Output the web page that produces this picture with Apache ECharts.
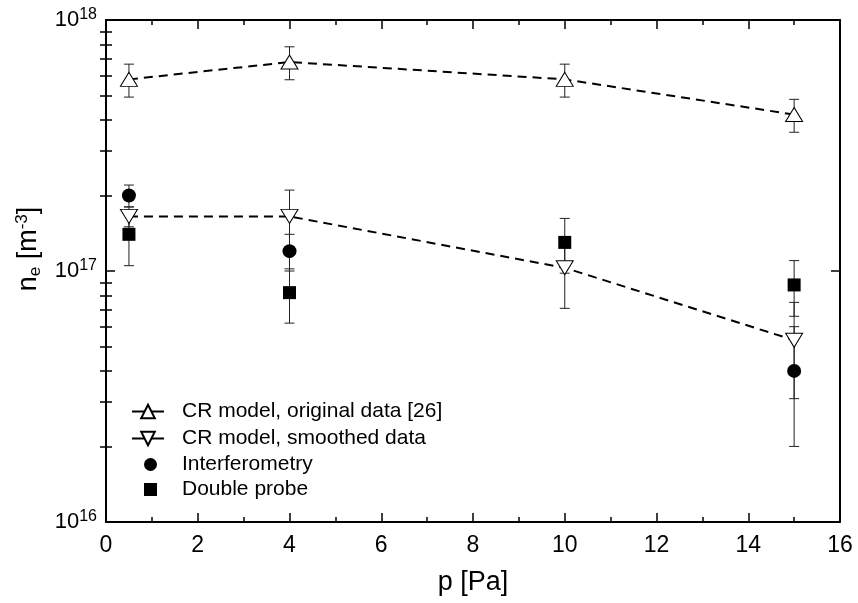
<!DOCTYPE html>
<html><head><meta charset="utf-8">
<script src="https://cdn.jsdelivr.net/npm/echarts@6/dist/echarts.min.js"></script>
<style>html,body{margin:0;padding:0;background:#fff}#c{width:858px;height:603px}</style>
</head><body><div id="c"></div>
<script>
// ---- data ----
const pressure = [0.5, 4, 10, 15];
const crOriginal = [5.8e17, 6.8e17, 5.8e17, 4.2e17];
const crOriginalErr = [0.87e17, 1.02e17, 0.87e17, 0.63e17];
const crSmoothed = [1.65e17, 1.65e17, 1.03e17, 5.3e16];
const crSmoothedErr = [0.15e17, 0.45e17, 0.32e17, 0.22e17];
const interfP = [0.5, 4, 15];
const interf = [2.0e17, 1.2e17, 4.0e16];
const interfErr = [0.2e17, 0.2e17, 2.0e16];
const probeP = [0.5, 4, 10, 15];
const probe = [1.4e17, 8.2e16, 1.3e17, 8.8e16];
const probeErr = [0.35e17, 0.2e17, 0.32e17, 0.22e17];
const yMinorTicks = [2e16,3e16,4e16,5e16,6e16,7e16,8e16,9e16,2e17,3e17,4e17,5e17,6e17,7e17,8e17,9e17];
const names = ['CR model, original data [26]', 'CR model, smoothed data', 'Interferometry', 'Double probe'];

const FONT = 'Liberation Sans, Arial, sans-serif';
const zip2 = (xs, ys) => xs.map((x, i) => [x, ys[i]]);
const zip3 = (xs, ys, es) => xs.map((x, i) => [x, ys[i], es[i]]);

function errSeries(data) {
  return {
    type: 'custom', xAxisIndex: 0, yAxisIndex: 0, z: 1, silent: true,
    data: data,
    renderItem: function (params, api) {
      const x = api.value(0), y = api.value(1), e = api.value(2);
      const hi = api.coord([x, y + e]);
      const lo = api.coord([x, y - e]);
      const w = 5;
      const st = { stroke: '#222', lineWidth: 1 };
      return { type: 'group', children: [
        { type: 'line', shape: { x1: hi[0], y1: hi[1], x2: lo[0], y2: lo[1] }, style: st },
        { type: 'line', shape: { x1: hi[0] - w, y1: hi[1], x2: hi[0] + w, y2: hi[1] }, style: st },
        { type: 'line', shape: { x1: lo[0] - w, y1: lo[1], x2: lo[0] + w, y2: lo[1] }, style: st }
      ]};
    }
  };
}

const xAxisBase = {
  type: 'value', min: 0, max: 16, interval: 2,
  axisLine: { show: true, onZero: false, lineStyle: { color: '#000', width: 2 } },
  axisTick: { show: true, inside: true, length: 9, lineStyle: { color: '#000', width: 1.5 } },
  minorTick: { show: true, splitNumber: 2, length: 5, lineStyle: { color: '#000', width: 1.5 } },
  splitLine: { show: false }, minorSplitLine: { show: false }
};
const yAxisBase = {
  type: 'log', logBase: 10, min: 1e16, max: 1e18,
  axisLine: { show: true, onZero: false, lineStyle: { color: '#000', width: 2 } },
  axisTick: { show: true, inside: true, length: 9, lineStyle: { color: '#000', width: 1.5 } },
  splitLine: { show: false }
};
const yMinorBase = {
  type: 'log', logBase: 10, min: 1e16, max: 1e18,
  axisLine: { show: false },
  axisLabel: { show: false },
  axisTick: { show: true, inside: true, length: 6, customValues: yMinorTicks, lineStyle: { color: '#000', width: 1.5 } },
  splitLine: { show: false }
};

const chart = echarts.init(document.getElementById('c'), null, { renderer: 'canvas' });
chart.setOption({
  animation: false,
  backgroundColor: '#fff',
  textStyle: { fontFamily: FONT },
  grid: { left: 106, right: 18, top: 20, bottom: 81, containLabel: false },
  xAxis: [
    Object.assign({}, xAxisBase, {
      position: 'bottom',
      name: 'p [Pa]', nameLocation: 'middle', nameGap: 47,
      nameTextStyle: { fontSize: 27, color: '#000', fontFamily: FONT },
      axisLabel: { show: true, fontSize: 23, color: '#000', margin: 12, fontFamily: FONT }
    }),
    Object.assign({}, xAxisBase, { position: 'top', axisLabel: { show: false } })
  ],
  yAxis: [
    Object.assign({}, yAxisBase, {
      position: 'left',
      name: 'n{sub|e} [m{sup|-3}]', nameLocation: 'middle', nameGap: 62,
      nameTextStyle: {
        fontSize: 27, color: '#000', fontFamily: FONT, padding: [0, 0, 0, 44],
        rich: {
          sub: { fontSize: 17, color: '#000', fontFamily: FONT, padding: [13, 0, 0, 0] },
          sup: { fontSize: 17, color: '#000', fontFamily: FONT, padding: [0, 0, 13, 0] }
        }
      },
      axisLabel: {
        show: true, margin: 9, color: '#000',
        formatter: v => '{b|10}{s|' + Math.round(Math.log10(v)) + '}',
        rich: {
          b: { fontSize: 22, color: '#000', fontFamily: FONT, lineHeight: 22 },
          s: { fontSize: 16, color: '#000', fontFamily: FONT, padding: [0, 0, 10, 0] }
        }
      }
    }),
    Object.assign({}, yMinorBase, { position: 'left' }),
    Object.assign({}, yAxisBase, { position: 'right', axisLabel: { show: false } }),
    Object.assign({}, yMinorBase, { position: 'right' })
  ],
  legend: [
    {
      data: [names[0], names[1]],
      orient: 'vertical', left: 131, top: 401, padding: 0,
      itemWidth: 32, itemHeight: 17, itemGap: 6,
      symbolRotate: 'inherit',
      lineStyle: { type: 'solid', width: 2, color: '#000' },
      textStyle: { fontSize: 21, color: '#000', fontFamily: FONT, padding: [0, 0, 0, 13] }
    },
    {
      data: [names[2], names[3]],
      orient: 'vertical', left: 144, top: 454, padding: 0,
      itemWidth: 13, itemHeight: 13, itemGap: 4,
      textStyle: { fontSize: 21, color: '#000', fontFamily: FONT, padding: [0, 0, 0, 20] }
    }
  ],
  series: [
    errSeries(zip3(pressure, crOriginal, crOriginalErr)),
    errSeries(zip3(pressure, crSmoothed, crSmoothedErr)),
    errSeries(zip3(interfP, interf, interfErr)),
    errSeries(zip3(probeP, probe, probeErr)),
    {
      name: names[0], type: 'line', z: 3,
      data: zip2(pressure, crOriginal),
      symbol: 'triangle', symbolSize: [17, 14], showAllSymbol: true,
      lineStyle: { color: '#000', width: 2, type: [9, 6] },
      itemStyle: { color: '#fff', borderColor: '#000', borderWidth: 1 }
    },
    {
      name: names[1], type: 'line', z: 3,
      data: zip2(pressure, crSmoothed),
      symbol: 'triangle', symbolRotate: 180, symbolSize: [17, 14], showAllSymbol: true,
      lineStyle: { color: '#000', width: 2, type: [9, 6] },
      itemStyle: { color: '#fff', borderColor: '#000', borderWidth: 1 }
    },
    {
      name: names[2], type: 'scatter', z: 4,
      data: zip2(interfP, interf),
      symbol: 'circle', symbolSize: 14,
      itemStyle: { color: '#000', opacity: 1 }
    },
    {
      name: names[3], type: 'scatter', z: 4,
      data: zip2(probeP, probe),
      symbol: 'rect', symbolSize: 13,
      itemStyle: { color: '#000', opacity: 1 }
    }
  ]
});
</script>
</body></html>
